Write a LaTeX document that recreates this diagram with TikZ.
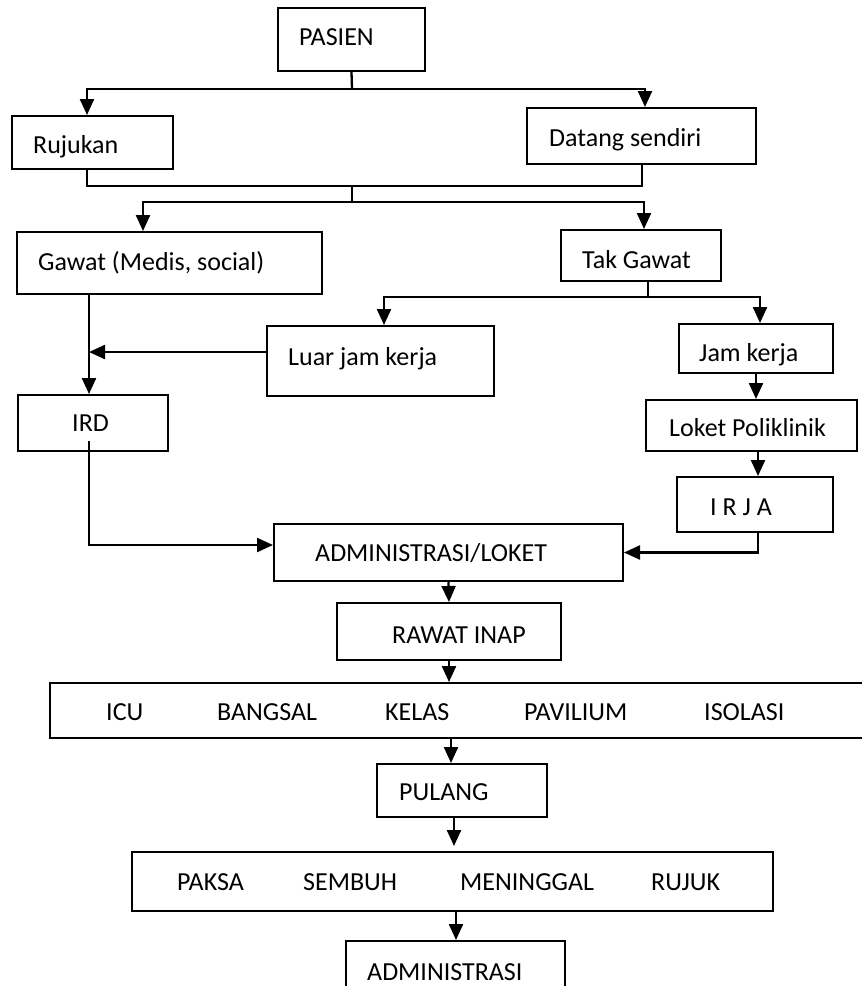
\documentclass[tikz,border=0pt]{standalone}
\usepackage{fontspec}
\setmainfont{Carlito}
\usetikzlibrary{arrows.meta}
\tikzset{
  box/.style={draw=black, line width=2pt, inner sep=0pt, rectangle},
  txt/.style={anchor=west, inner sep=0pt, text height=16.7pt, text depth=0pt, font=\fontsize{26pt}{30pt}\selectfont},
  ln/.style={draw=black, line width=2.3pt},
  arr/.style={draw=black, line width=2.3pt, -{Triangle[width=14pt,length=16pt]}}
}
\begin{document}
\begin{tikzpicture}[x=1pt,y=-1pt]
\useasboundingbox (0,0) rectangle (862,986);
\clip (0,0) rectangle (862,986);
% boxes
\node[box, minimum width=147pt, minimum height=63pt] (pasien) at (351.5,39.5) {};
\node[box, minimum width=161pt, minimum height=53pt] (rujukan) at (92.5,142.5) {};
\node[box, minimum width=229pt, minimum height=56pt] (datang) at (641.5,136) {};
\node[box, minimum width=305pt, minimum height=62pt] (gawat) at (169.5,263) {};
\node[box, minimum width=160pt, minimum height=51pt] (takgawat) at (641,255.5) {};
\node[box, minimum width=227pt, minimum height=70pt] (luar) at (380.5,361) {};
\node[box, minimum width=154pt, minimum height=49pt] (jam) at (756,348.5) {};
\node[box, minimum width=150pt, minimum height=56pt] (ird) at (93,423) {};
\node[box, minimum width=211pt, minimum height=51pt] (loket) at (751.5,425.5) {};
\node[box, minimum width=156pt, minimum height=55pt] (irja) at (755,504.5) {};
\node[box, minimum width=349pt, minimum height=57pt] (admin) at (448.5,552.5) {};
\node[box, minimum width=224pt, minimum height=57pt] (rawat) at (449,631.5) {};
\node[box, minimum width=830pt, minimum height=55pt] (ranap) at (465,710.5) {};
\node[box, minimum width=170pt, minimum height=53pt] (pulang) at (462,790.5) {};
\node[box, minimum width=641pt, minimum height=59pt] (keluar) at (452.5,881.5) {};
\node[box, minimum width=219pt, minimum height=59pt] (adm2) at (455.5,970.5) {};
% texts
\node[txt] (tPasien) at (299,37) {PASIEN};
\node[txt] (tRujukan) at (33,145) {Rujukan};
\node[txt] (tDatang) at (549,138) {Datang sendiri};
\node[txt] (tGawat) at (38,262) {Gawat (Medis, social)};
\node[txt] (tTak) at (582,260) {Tak Gawat};
\node[txt] (tLuar) at (288,357) {Luar jam kerja};
\node[txt] (tJam) at (699,353) {Jam kerja};
\node[txt] (tIrd) at (72,423) {IRD};
\node[txt] (tLoket) at (669,428) {Loket Poliklinik};
\node[txt] (tIrja) at (710,507) {I R J A};
\node[txt] (tAdmin) at (315,553) {ADMINISTRASI/LOKET};
\node[txt] (tRawat) at (392,635) {RAWAT INAP};
\node[txt] (tIcu) at (106,712) {ICU};
\node[txt] (tBangsal) at (217,712) {BANGSAL};
\node[txt] (tKelas) at (385,712) {KELAS};
\node[txt] (tPav) at (524,712) {PAVILIUM};
\node[txt] (tIso) at (704,712) {ISOLASI};
\node[txt] (tPulang) at (399,792) {PULANG};
\node[txt] (tPaksa) at (177,882) {PAKSA};
\node[txt] (tSembuh) at (303,882) {SEMBUH};
\node[txt] (tMeninggal) at (460,882) {MENINGGAL};
\node[txt] (tRujuk) at (651,882) {RUJUK};
\node[txt] (tAdm2) at (367,972) {ADMINISTRASI};
% branch points
\coordinate (b1) at (352,89);
\coordinate (m2) at (352,186);
\coordinate (b2) at (352,202);
\coordinate (b3) at (648,297);
\coordinate (j1) at (89,352);
% connectors
\draw[ln] (pasien.south) -- (b1);
\draw[arr] (b1) -| ([xshift=-5.5pt]rujukan.north);
\draw[arr] (b1) -| ([xshift=3.5pt]datang.north);
\draw[ln] ([xshift=-5.5pt]rujukan.south) |- (m2);
\draw[ln] ([xshift=0.5pt,yshift=2pt]datang.south) |- (m2);
\draw[ln] (m2) -- (b2);
\draw[arr] (b2) -| ([xshift=-26.5pt]gawat.north);
\draw[arr] (b2) -| ([xshift=3pt]takgawat.north);
\draw[ln] ([xshift=7pt]takgawat.south) -- (b3);
\draw[arr] (b3) -| ([xshift=3.5pt]luar.north);
\draw[arr] (b3) -| ([xshift=4pt]jam.north);
\draw[arr] ([xshift=-80.5pt]gawat.south) -- ([xshift=-4pt]ird.north);
\draw[arr] ([yshift=9pt]luar.west) -- (j1);
\draw[arr] (jam.south) -- ([xshift=4.5pt]loket.north);
\draw[arr] ([xshift=6.5pt]loket.south) -- ([xshift=3pt]irja.north);
\draw[arr] ([xshift=-4pt,yshift=11pt]ird.south) |- ([yshift=7.5pt]admin.west);
\draw[arr] ([xshift=3pt]irja.south) |- (admin.east);
\draw[arr] (admin.south) -- (rawat.north);
\draw[arr] (rawat.south) -- (rawat.south |- ranap.north);
\draw[arr] ([xshift=-11pt]pulang.north |- ranap.south) -- ([xshift=-11pt]pulang.north);
\draw[arr] ([xshift=-8pt]pulang.south) -- ([xshift=1.5pt,yshift=5pt]keluar.north);
\draw[arr] ([xshift=3.5pt]keluar.south) -- ([xshift=0.5pt]adm2.north);
\end{tikzpicture}
\end{document}
